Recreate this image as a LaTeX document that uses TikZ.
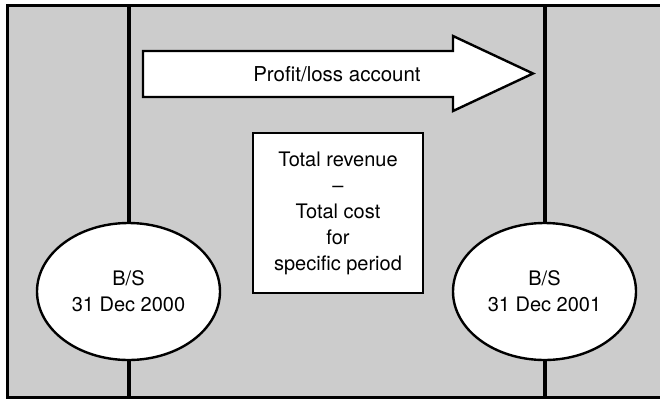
\documentclass[tikz,border=0pt]{standalone}
\usepackage{fontspec}
\setmainfont{TeX Gyre Heros}
\usetikzlibrary{shapes.geometric}
\definecolor{panelgray}{HTML}{CCCCCC}
\tikzset{
  frame/.style={draw=black, fill=panelgray, line width=3pt},
  divider/.style={draw=black, line width=4pt},
  bsnode/.style={ellipse, draw=black, fill=white, line width=2.4pt, minimum width=183pt, minimum height=137pt, inner sep=0pt, align=center, font=\fontsize{20}{26}\selectfont},
  textbox/.style={rectangle, draw=black, fill=white, line width=2.4pt, minimum width=170pt, minimum height=160pt, inner sep=0pt, align=center, font=\fontsize{20}{26}\selectfont},
  bigarrow/.style={draw=black, fill=white, line width=2.4pt, line join=miter},
  lbl/.style={font=\fontsize{20.5}{26}\selectfont, inner sep=0pt}
}
\begin{document}
\begin{tikzpicture}[x=1pt,y=-1pt]
\useasboundingbox (0,0) rectangle (660,399);
\draw[frame] (7,5) rectangle (680,397);
\coordinate (t1) at (128.5,5);
\coordinate (b1) at (128.5,397);
\coordinate (t2) at (544.5,5);
\coordinate (b2) at (544.5,397);
\node[bsnode] (e1) at (128.5,291.5) {B/S\\31 Dec 2000};
\node[bsnode] (e2) at (544.5,291.5) {B/S\\31 Dec 2001};
\draw[divider] (t1) -- (e1.north);
\draw[divider] (e1.south) -- (b1);
\draw[divider] (t2) -- (e2.north);
\draw[divider] (e2.south) -- (b2);
\draw[bigarrow] (143,51) -- (453,51) -- (453,36) -- (533,73.5) -- (453,111) -- (453,97) -- (143,97) -- cycle;
\node[lbl] (pl) at (337,74) {Profit/loss account};
\node[textbox] (tr) at (338,213) {Total revenue\\–\\Total cost\\for\\specific period};
\end{tikzpicture}
\end{document}
